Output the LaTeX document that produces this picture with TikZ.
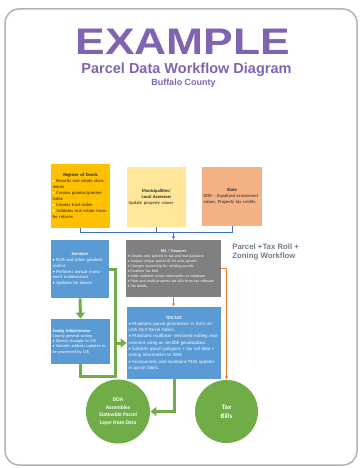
\documentclass[tikz,border=0pt]{standalone}
\usepackage{fontspec}
\setmainfont{Carlito}
\newfontfamily\headfont{Liberation Sans}
\usetikzlibrary{arrows.meta}

\definecolor{titlepurple}{RGB}{128,100,178}
\definecolor{notegray}{RGB}{112,122,140}
\definecolor{framegray}{RGB}{170,180,190}
\definecolor{deedsgold}{RGB}{255,192,0}
\definecolor{assessyellow}{RGB}{255,230,153}
\definecolor{statepeach}{RGB}{244,177,131}
\definecolor{cardblue}{RGB}{91,155,213}
\definecolor{cardgray}{RGB}{128,128,128}
\definecolor{flowgreen}{RGB}{112,173,71}
\definecolor{linkblue}{RGB}{68,114,196}
\definecolor{linkorange}{RGB}{237,125,49}

\newcommand{\cardtitle}[1]{\makebox[\linewidth][c]{\textbf{#1}}\\}
\newcommand{\wbul}{{\color{white}\textbullet}~}

\tikzset{every picture/.style={line width=0.75pt}}

\begin{document}
\begin{tikzpicture}[x=1pt,y=1pt,yscale=-1,xscale=1,
    card/.style={inner sep=1.5pt, align=left, font=\fontsize{4.6}{5.9}\selectfont},
    lightcard/.style={card, text=black!85},
    darkcard/.style={card, text=white},
    bubble/.style={circle, fill=flowgreen, text=white, align=center, inner sep=0pt},
    bluelink/.style={draw=linkblue, line width=1},
    greenlink/.style={draw=flowgreen, line width=3},
    orangelink/.style={draw=linkorange, line width=1}]
  \useasboundingbox (0,0) rectangle (359,468);

  % frame
  \draw [framegray, line width=1.5, rounded corners=14] (5,9) rectangle (357,465);

  % headings
  \node [font=\headfont\bfseries\fontsize{37}{37}\selectfont, text=titlepurple] (title) at (183,41.5) {\scalebox{1.2}[1]{EXAMPLE}};
  \node [font=\headfont\bfseries\fontsize{14.5}{14.5}\selectfont, text=titlepurple] (subtitle) at (186.5,70) {Parcel Data Workflow Diagram};
  \node [font=\headfont\bfseries\fontsize{9}{9}\selectfont, text=titlepurple] (county) at (183.5,83) {Buffalo County};
  \node [anchor=north west, inner sep=0pt, align=left, font=\headfont\bfseries\fontsize{7.8}{9}\selectfont, text=notegray] (workflow) at (232,243) {Parcel +Tax Roll +\\Zoning Workflow};

  % top row
  \node [lightcard, fill=deedsgold, minimum width=59, minimum height=64, text width=56pt] (deeds) at (80.5,196) {\cardtitle{Register of Deeds}\wbul Records real estate documents\\\wbul Creates grantor/grantee index\\\wbul Creates tract index\\\wbul Validates real estate transfer returns};
  \node [lightcard, fill=assessyellow, minimum width=59, minimum height=60, text width=56pt] (assessors) at (156.5,197) {\cardtitle{Municipalities/}\cardtitle{Local Assessors}Update property values};
  \node [lightcard, fill=statepeach, minimum width=60, minimum height=59, text width=57pt] (state) at (232,196.5) {\cardtitle{State}DOR -- Equalized assessment values, Property tax credits.};

  % middle
  \node [darkcard, fill=cardblue, minimum width=58, minimum height=58, text width=55pt] (surveyor) at (80,269) {\cardtitle{Surveyor}\textbullet{} PLSS and other geodetic control\\\textbullet{} Performs annual monument maintenance\\\textbullet{} Updates tie sheets};
  \node [darkcard, fill=cardgray, minimum width=95, minimum height=57, text width=92pt, font=\fontsize{3.9}{5.1}\selectfont] (lister) at (173.5,268.5) {\cardtitle{RPL / Treasurer}\textbullet{} Creates new parcels in tax and real database\\\textbullet{} Assigns unique parcel ID for new parcels\\\textbullet{} Changes ownership for existing parcels\\\textbullet{} Finalizes Tax Roll\\\textbullet{} Adds updated survey information to database\\\textbullet{} Print and mails property tax bills from tax software\\\textbullet{} Tax deeds};
  \node [darkcard, fill=cardblue, minimum width=94, minimum height=72, text width=91pt, font=\fontsize{4.8}{6.3}\selectfont] (gis) at (174,343) {\cardtitle{GIS/LIO}\textbullet{} Maintains parcel geometries in Esri's ArcGIS 10.3 Parcel Fabric.\\\textbullet{} Maintains multiuser versioned editing environment using an ArcSDE geodatabase\\\textbullet{} Submits parcel polygons + tax roll data + zoning information to DOA\\\textbullet{} Incorporates and maintains PLSS updates in parcel fabric.};
  \node [darkcard, fill=cardblue, minimum width=59, minimum height=45, text width=56pt, font=\fontsize{4.3}{5.2}\selectfont] (zoning) at (80.5,341.5) {\textbf{Zoning Administrator}\\County general zoning\\\textbullet{} Directs changes to GIS\\\textbullet{} Submits address updates to be processed by GIS};

  % results
  \node [bubble, minimum size=64, font=\bfseries\fontsize{5.5}{7.6}\selectfont] (doa) at (118,411.5) {DOA\\Assembles\\Statewide Parcel\\Layer from Data};
  \node [bubble, minimum size=63, font=\bfseries\fontsize{6.8}{9}\selectfont] (bills) at (226.5,411.5) {Tax\\Bills};

  % blue feed
  \coordinate (bus) at (0,232);
  \draw [bluelink] (deeds.south) -- (deeds.south |- bus) -- (state.south |- bus) -- (state.south);
  \draw [bluelink] (assessors.south) -- (assessors.south |- bus);
  \draw [bluelink, -{Stealth[length=3.5,width=3]}] (lister.north |- bus) -- (lister.north);

  % green flow
  \coordinate (elbow) at (115,376);
  \draw [greenlink, -{Triangle[length=6,width=9]}] (surveyor.south) -- (zoning.north);
  \draw [greenlink] (surveyor.east) -| (elbow) -| (zoning.south);
  \draw [greenlink, -{Triangle[length=6,width=9]}] (elbow |- gis.west) -- (gis.west);
  \draw [greenlink, -{Triangle[length=6,width=9]}] (gis.south) |- (doa.east);

  % orange flow
  \draw [orangelink, -{Stealth[length=3.5,width=3]}] (lister.south) -- (lister.south |- gis.north);
  \draw [orangelink, -{Stealth[length=3.5,width=3]}] (lister.east) -| (bills.north);

\end{tikzpicture}
\end{document}
